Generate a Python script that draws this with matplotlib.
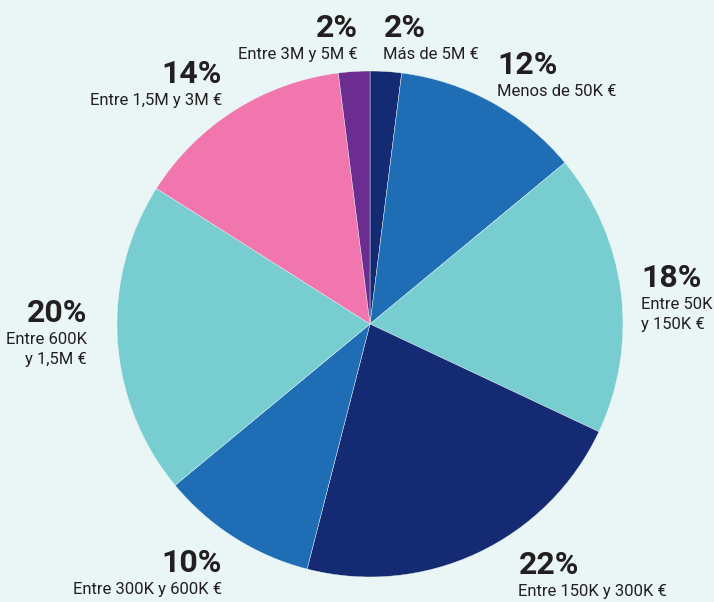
import matplotlib.pyplot as plt
import numpy as np

plt.rcParams["font.family"] = ["Roboto", "DejaVu Sans"]

# 数据：从顶部开始顺时针
etiquetas = ["Más de 5M €", "Menos de 50K €", "Entre 50K\ny 150K €", "Entre 150K y 300K €",
             "Entre 300K y 600K €", "Entre 600K\ny 1,5M €", "Entre 1,5M y 3M €", "Entre 3M y 5M €"]
porcentajes = [2, 12, 18, 22, 10, 20, 14, 2]
colores = ["#142A72", "#1F6DB5", "#77CDD0", "#142A72", "#1F6DB5", "#77CDD0", "#F276AE", "#6B2D8F"]

fondo = "#EAF6F6"
texto = "#231F20"

fig = plt.figure(figsize=(7.14, 6.02), dpi=100, facecolor=fondo)
ax = fig.add_axes([0, 0, 1, 1])
ax.set_facecolor(fondo)

cx, cy, r = 370, 278, 253
wedges, _ = ax.pie(porcentajes, colors=colores, startangle=90, counterclock=False,
                   center=(cx, cy), radius=r, frame=True,
                   wedgeprops=dict(edgecolor=fondo, linewidth=0.3))
ax.set_xlim(0, 714)
ax.set_ylim(0, 602)
ax.axis("off")

# 标签位置微调
ajustes = {0: (-4, 3), 1: (-7, 0), 2: (-5, -4), 3: (30, -4), 4: (1, -19), 5: (-5, 13), 6: (1, 0), 7: (5, 3)}
for i, w in enumerate(wedges):
    ang = np.deg2rad((w.theta1 + w.theta2) / 2)
    x = cx + 1.1 * r * np.cos(ang)
    y = cy + 1.1 * r * np.sin(ang)
    dx, dy = ajustes[i]
    x += dx
    y += dy
    ha = "left" if np.cos(ang) > 0 else "right"
    ax.text(x, y, f"{porcentajes[i]}%", ha=ha, va="bottom", fontsize=23,
            fontweight="bold", color=texto)
    ax.text(x, y - 4, etiquetas[i], ha=ha, va="top", fontsize=12, color=texto,
            linespacing=1.4, multialignment=ha)

plt.savefig("out.png", dpi=100, facecolor=fondo)
